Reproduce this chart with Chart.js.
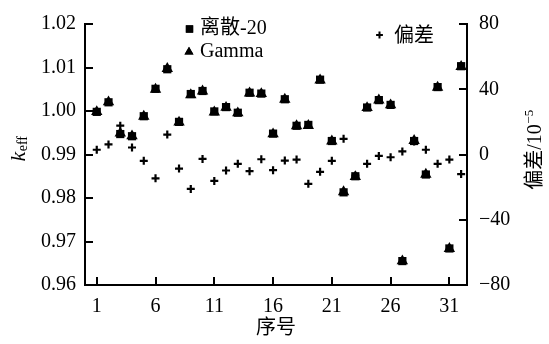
<!DOCTYPE html>
<html><head><meta charset="utf-8">
<script src="https://cdn.jsdelivr.net/npm/chart.js@4/dist/chart.umd.min.js"></script>
<style>html,body{margin:0;padding:0;background:#fff;}canvas{display:block;}</style>
</head><body>
<canvas id="c" width="549" height="344"></canvas>
<script>
const categories = [1,2,3,4,5,6,7,8,9,10,11,12,13,14,15,16,17,18,19,20,21,22,23,24,25,26,27,28,29,30,31,32];
const discrete20 = [0.99980,1.00200,0.99470,0.99420,0.99880,1.00510,1.00960,0.99750,1.00390,1.00460,0.99990,1.00090,0.99960,1.00420,1.00400,0.99480,1.00270,0.99660,0.99680,1.00720,0.99310,0.98130,0.98500,1.00080,1.00250,1.00140,0.96550,0.99310,0.98540,1.00550,0.96840,1.01030];
const gamma      = [0.99983,1.00206,0.99488,0.99424,0.99876,1.00495,1.00972,0.99741,1.00369,1.00457,0.99974,1.00080,0.99954,1.00410,1.00397,0.99470,1.00266,0.99657,0.99662,1.00709,0.99306,0.98140,0.98487,1.00074,1.00249,1.00138,0.96552,0.99318,0.98543,1.00544,0.96837,1.01018];
const deviation  = [2.9,6.2,17.7,4.3,-3.9,-14.6,12.2,-8.6,-21.1,-2.7,-16.2,-9.8,-5.7,-10.2,-2.9,-9.6,-3.7,-3.1,-18.0,-10.6,-3.9,9.6,-13.0,-5.7,-0.9,-1.7,1.9,8.0,2.9,-5.7,-3.1,-12.0];
const xTickValues = [1,6,11,16,21,26,31];
const xTickLabels = ['1','6','11','16','21','26','31'];
const seriesNames = ['离散-20','Gamma','偏差'];
const xTitle = '序号';
const yRightTitle = ['偏差','/10','−5'];
const yLeftTitle = ['k','eff'];

const SERIF = '"Liberation Serif","Times New Roman","Noto Sans CJK SC",serif';
const toPts = arr => categories.map((c,i)=>({x:c,y:arr[i]}));

const deco = {
  id:'deco',
  afterDraw(chart){
    const {ctx, chartArea:a, scales} = chart;
    ctx.save();
    ctx.strokeStyle='#000'; ctx.lineWidth=2; ctx.lineCap='butt';
    const L=8;
    scales.y.ticks.forEach(t=>{const p=Math.round(scales.y.getPixelForValue(t.value));ctx.beginPath();ctx.moveTo(a.left,p);ctx.lineTo(a.left+L,p);ctx.stroke();});
    scales.y2.ticks.forEach(t=>{const p=Math.round(scales.y2.getPixelForValue(t.value));ctx.beginPath();ctx.moveTo(a.right,p);ctx.lineTo(a.right-L,p);ctx.stroke();});
    scales.x.ticks.forEach(t=>{const p=Math.round(scales.x.getPixelForValue(t.value));ctx.beginPath();ctx.moveTo(p,a.bottom);ctx.lineTo(p,a.bottom-L);ctx.stroke();});

    ctx.fillStyle='#000';
    const ds = chart.data.datasets;
    const H = Chart.helpers;
    H.drawPoint(ctx,{pointStyle:'rect',radius:5.2,borderWidth:0},189.5,29);
    ctx.fill();
    H.drawPoint(ctx,{pointStyle:'triangle',radius:5.2,borderWidth:0},189,52);
    ctx.fill();
    ctx.lineWidth=2;
    H.drawPoint(ctx,{pointStyle:'cross',radius:3.4,borderWidth:2},379.5,35);
    ctx.font='20px '+SERIF; ctx.textBaseline='middle'; ctx.textAlign='left';
    ctx.fillText(ds[0].label,200,29);
    ctx.fillText(ds[1].label,200,52);
    ctx.fillText(ds[2].label,394,37);

    ctx.textAlign='center';
    ctx.fillText(xTitle,276,329);

    ctx.save();
    ctx.translate(25,149); ctx.rotate(-Math.PI/2);
    ctx.textBaseline='alphabetic'; ctx.textAlign='left';
    ctx.font='italic 22px '+SERIF; const wk=ctx.measureText(yLeftTitle[0]).width;
    ctx.font='14px '+SERIF; const we=ctx.measureText(yLeftTitle[1]).width;
    let sx=-(wk+we)/2;
    ctx.font='italic 22px '+SERIF; ctx.fillText(yLeftTitle[0],sx,0);
    ctx.font='14px '+SERIF; ctx.fillText(yLeftTitle[1],sx+wk+0.5,2);
    ctx.restore();

    ctx.save();
    ctx.translate(541,150); ctx.rotate(-Math.PI/2);
    ctx.textBaseline='alphabetic'; ctx.textAlign='left';
    ctx.font='20px '+SERIF; const w1=ctx.measureText(yRightTitle[0]).width, w2=ctx.measureText(yRightTitle[1]).width;
    ctx.font='13px '+SERIF; const w3=ctx.measureText(yRightTitle[2]).width;
    let rx=-(w1+w2+w3)/2;
    ctx.font='20px '+SERIF; ctx.fillText(yRightTitle[0],rx,0); ctx.fillText(yRightTitle[1],rx+w1,0);
    ctx.font='13px '+SERIF; ctx.fillText(yRightTitle[2],rx+w1+w2+0.5,-8);
    ctx.restore();
    ctx.restore();
  }
};

new Chart(document.getElementById('c'),{
  type:'scatter',
  data:{datasets:[
    {label:seriesNames[0],data:toPts(discrete20),yAxisID:'y',pointStyle:'rect',radius:5.8,backgroundColor:'#000',borderColor:'#000',borderWidth:0,order:1},
    {label:seriesNames[1],data:toPts(gamma),yAxisID:'y',pointStyle:'triangle',radius:6.6,backgroundColor:'#000',borderColor:'#000',borderWidth:0,order:2},
    {label:seriesNames[2],data:toPts(deviation),yAxisID:'y2',pointStyle:'cross',radius:4,backgroundColor:'#000',borderColor:'#000',borderWidth:2.2,order:3}
  ]},
  options:{
    responsive:false, animation:false, devicePixelRatio:1,
    layout:{padding:{top:16,left:0,right:0,bottom:0}},
    plugins:{legend:{display:false},tooltip:{enabled:false}},
    scales:{
      x:{type:'linear',min:0,max:32.5,
        afterBuildTicks(s){s.ticks=xTickValues.map(v=>({value:v}));},
        afterFit(s){s.height=59;},
        grid:{display:true,drawOnChartArea:false,drawTicks:false},
        border:{display:true,color:'#000',width:2},
        ticks:{padding:10,color:'#000',font:{family:SERIF,size:20},maxRotation:0,autoSkip:false,
          callback:(v)=>{const i=xTickValues.indexOf(v);return i>=0?xTickLabels[i]:'';}}
      },
      y:{type:'linear',position:'left',min:0.96,max:1.02,
        afterFit(s){s.width=85;},
        grid:{display:true,drawOnChartArea:false,drawTicks:false},
        border:{display:true,color:'#000',width:2},
        ticks:{stepSize:0.01,padding:9,color:'#000',font:{family:SERIF,size:20},callback:v=>Number(v).toFixed(2)}
      },
      y2:{type:'linear',position:'right',min:-80,max:80,
        afterFit(s){s.width=82;},
        grid:{display:true,drawOnChartArea:false,drawTicks:false},
        border:{display:true,color:'#000',width:2},
        ticks:{stepSize:40,padding:12,color:'#000',font:{family:SERIF,size:20},callback:v=>String(Math.round(v)).replace('-','−')}
      }
    }
  },
  plugins:[deco]
});
</script>
</body></html>
